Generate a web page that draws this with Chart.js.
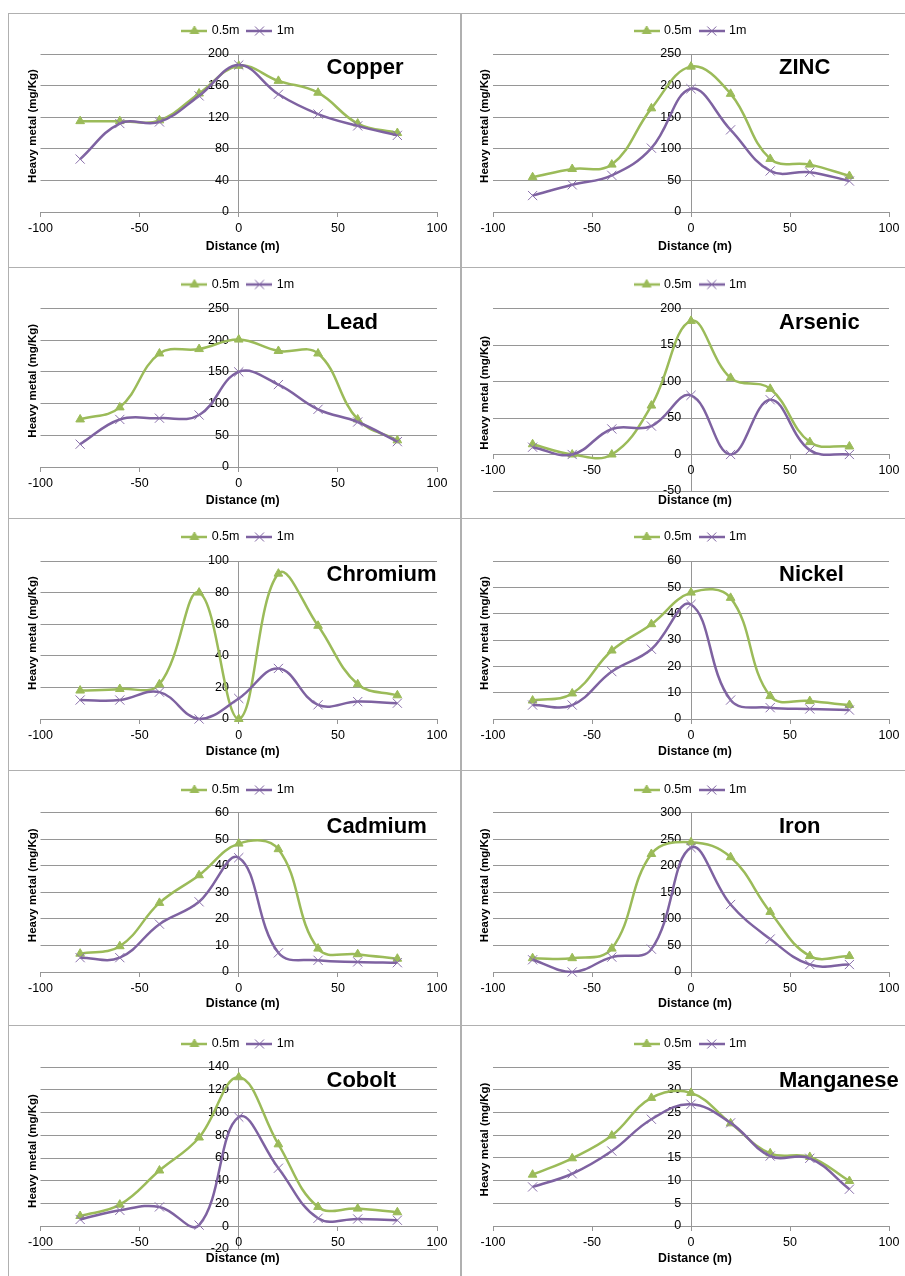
<!DOCTYPE html>
<html>
<head>
<meta charset="utf-8">
<script src="https://cdn.jsdelivr.net/npm/chart.js@4.4.1/dist/chart.umd.min.js"></script>
<style>
  body { margin: 0; background: #fff; width: 905px; height: 1276px; overflow: hidden; position: relative; }
  .frame { position: absolute; box-sizing: border-box; border-top: 1px solid #b0b0b0; border-left: 1px solid #b0b0b0; }
  .frame.left { border-right: 1px solid #b0b0b0; }
  canvas { position: absolute; }
</style>
</head>
<body>
<script>
const distances = [-80, -60, -40, -20, 0, 20, 40, 60, 80];
const seriesLabels = ["0.5m", "1m"];
const elements = ["Copper", "ZINC", "Lead", "Arsenic", "Chromium", "Nickel", "Cadmium", "Iron", "Cobolt", "Manganese"];

const copper05 = [115, 115, 116, 150, 185, 166, 151, 112, 100];
const copper1 = [67, 112, 114, 147, 186, 149, 124, 109, 97];
const zinc05 = [55, 68, 75, 164, 230, 187, 84, 75, 57];
const zinc1 = [26, 43, 58, 101, 195, 130, 65, 63, 49];
const lead05 = [75, 94, 179, 186, 201, 183, 179, 75, 42];
const lead1 = [36, 75, 77, 82, 150, 130, 91, 71, 40];
const arsenic05 = [14, 0, 0, 67, 183, 105, 90, 17, 11];
const arsenic1 = [10, 0, 35, 39, 81, 0, 75, 6, 0];
const chromium05 = [18, 19, 22, 80, 0, 92, 59, 22, 15];
const chromium1 = [12, 12, 17, 0, 13, 32, 9, 11, 10];
const nickel05 = [7, 9.7, 26, 36, 48, 46, 8.7, 6.8, 5.3];
const nickel1 = [5.3, 5.3, 18, 26.5, 43.5, 7.2, 4.3, 3.8, 3.4];
const cadmium05 = [6.9, 9.7, 26, 36.4, 48.3, 46.2, 8.8, 6.7, 5];
const cadmium1 = [5.4, 5.4, 18, 26.4, 43, 7.2, 4.4, 3.8, 3.5];
const iron05 = [26, 26, 44, 222, 244, 216, 113, 30, 30];
const iron1 = [23, 0, 28, 43, 234, 127, 62, 14, 14];
const cobolt05 = [9, 19, 49, 78, 131, 72, 17, 15.5, 12.3];
const cobolt1 = [6, 14, 17, 1, 96, 51, 7, 6.4, 5.3];
const manganese05 = [11.3, 14.9, 19.9, 28.2, 29.3, 22.6, 16, 15.2, 9.9];
const manganese1 = [8.6, 11.5, 16.5, 23.5, 26.8, 22.7, 15.4, 14.9, 8.1];

const xMin = -100, xMax = 100, xStep = 50;
const yMins = [0, 0, 0, -50, 0, 0, 0, 0, -20, 0];
const yMaxs = [200, 250, 250, 200, 100, 60, 60, 300, 140, 35];
const ySteps = [20, 50, 50, 50, 10, 10, 10, 50, 20, 5];

const series05 = [copper05, zinc05, lead05, arsenic05, chromium05, nickel05, cadmium05, iron05, cobolt05, manganese05];
const series1 = [copper1, zinc1, lead1, arsenic1, chromium1, nickel1, cadmium1, iron1, cobolt1, manganese1];

// page layout
const rowTops = [13, 267, 518, 770, 1025];
const canvasHeights = [252, 249, 250, 253, 250];
const legendMid = [17, 16.5, 18, 19, 18];
const plotTop = [40, 40.5, 42, 41.5, 41];
const plotBottom = [198, 199, 200, 201, 200];
const plotBottomNeg = 223;

const green = "#9BBB59";
const purple = "#7E62A1";
const gridColor = "#969696";
const fontFamily = '"Liberation Sans", Arial, sans-serif';

Chart.defaults.font.family = fontFamily;
Chart.defaults.font.size = 12.5;
Chart.defaults.color = "#000";

// legend key: short line with the marker in the middle
function makeIcon(color, marker) {
  const c = document.createElement("canvas");
  c.width = 26;
  c.height = 14;
  const g = c.getContext("2d");
  g.strokeStyle = color;
  g.fillStyle = color;
  g.lineWidth = 2.5;
  g.beginPath();
  g.moveTo(0, 7);
  g.lineTo(26, 7);
  g.stroke();
  g.lineWidth = 1;
  g.beginPath();
  if (marker === "triangle") {
    g.moveTo(13, 2);
    g.lineTo(17.33, 9.5);
    g.lineTo(8.67, 9.5);
    g.closePath();
    g.fill();
    g.stroke();
  } else {
    const d = 4.5;
    g.moveTo(13 - d, 7 - d);
    g.lineTo(13 + d, 7 + d);
    g.moveTo(13 + d, 7 - d);
    g.lineTo(13 - d, 7 + d);
    g.stroke();
  }
  return c;
}
const icons = [makeIcon(green, "triangle"), makeIcon(purple, "cross")];

const panelText = {
  id: "panelText",
  afterDraw(chart, args, opts) {
    const { ctx, chartArea: a } = chart;
    ctx.save();
    ctx.fillStyle = "#000";
    ctx.textBaseline = "middle";
    ctx.textAlign = "left";
    ctx.font = "bold 22px " + fontFamily;
    ctx.fillText(opts.name, a.left + 286, a.top + 14);
    ctx.textAlign = "center";
    ctx.font = "bold 12.3px " + fontFamily;
    ctx.fillText("Distance (m)", (a.left + a.right) / 2 + 4, 233);
    ctx.translate(a.left - 8, (a.top + a.bottom) / 2 - 7);
    ctx.rotate(-Math.PI / 2);
    ctx.font = "bold 11.5px " + fontFamily;
    ctx.fillText("Heavy metal (mg/Kg)", 0, 0);
    ctx.restore();
  },
};

elements.forEach((name, i) => {
  const row = Math.floor(i / 2);
  const col = i % 2;

  const frame = document.createElement("div");
  frame.className = "frame" + (col === 0 ? " left" : "");
  frame.style.left = (col === 0 ? 8 : 461) + "px";
  frame.style.top = rowTops[row] + "px";
  frame.style.width = (col === 0 ? 453 : 460) + "px";
  frame.style.height = (row < 4 ? rowTops[row + 1] - rowTops[row] + 1 : 300) + "px";
  document.body.appendChild(frame);

  const canvas = document.createElement("canvas");
  const w = col === 0 ? 451 : 443;
  const h = canvasHeights[row];
  canvas.width = w;
  canvas.height = h;
  canvas.style.left = (col === 0 ? 9 : 462) + "px";
  canvas.style.top = rowTops[row] + 1 + "px";
  canvas.style.width = w + "px";
  canvas.style.height = h + "px";
  document.body.appendChild(canvas);

  const legendPad = 9;
  const padTop = legendMid[row] - (legendPad + 6.25);
  const spacer = plotTop[row] - padTop - (12.5 + legendPad + 10);
  const bottom = yMins[i] < 0 ? plotBottomNeg : plotBottom[row];

  new Chart(canvas.getContext("2d"), {
    type: "line",
    data: {
      datasets: [
        {
          label: seriesLabels[0],
          data: distances.map((d, k) => ({ x: d, y: series05[i][k] })),
          borderColor: green,
          backgroundColor: green,
          borderWidth: 2.5,
          pointStyle: "triangle",
          pointRadius: 5,
          pointBorderWidth: 1,
          tension: 0.4,
          clip: false,
          order: 2,
        },
        {
          label: seriesLabels[1],
          data: distances.map((d, k) => ({ x: d, y: series1[i][k] })),
          borderColor: purple,
          backgroundColor: purple,
          borderWidth: 2.5,
          pointStyle: "crossRot",
          pointRadius: 6.5,
          pointBorderWidth: 1,
          pointBorderColor: "#8a70ab",
          tension: 0.4,
          clip: false,
          order: 1,
        },
      ],
    },
    options: {
      responsive: false,
      animation: false,
      layout: {
        padding: {
          top: padTop,
          left: col === 0 ? 31.5 : 31,
          right: col === 0 ? 23 : 16,
          bottom: h - bottom,
        },
      },
      plugins: {
        legend: {
          position: "top",
          labels: {
            usePointStyle: true,
            pointStyleWidth: 22,
            padding: legendPad,
            font: { size: 12.5 },
            sort: (a, b) => a.datasetIndex - b.datasetIndex,
            generateLabels: (chart) =>
              Chart.defaults.plugins.legend.labels
                .generateLabels(chart)
                .map((item) => ({ ...item, pointStyle: icons[item.datasetIndex] })),
          },
        },
        title: {
          display: true,
          text: "",
          weight: 500,
          font: { size: 1, lineHeight: 1 },
          padding: { top: 0, bottom: spacer - 1 },
        },
        tooltip: { enabled: false },
        panelText: { name },
      },
      scales: {
        x: {
          type: "linear",
          min: xMin,
          max: xMax,
          position: { y: 0 },
          ticks: { stepSize: xStep, padding: 5, maxRotation: 0 },
          grid: {
            drawOnChartArea: true,
            color: (c) => (c.tick && c.tick.value === 0 ? gridColor : "rgba(0,0,0,0)"),
            drawTicks: true,
            tickLength: 4,
            tickColor: gridColor,
          },
          border: { color: gridColor },
          afterFit: (s) => { s.height = 0; },
        },
        y: {
          type: "linear",
          min: yMins[i],
          max: yMaxs[i],
          // labels sit right-aligned at this x value, just left of the zero line
          position: { x: -5 },
          ticks: { stepSize: ySteps[i] },
          grid: { color: gridColor, drawTicks: false },
          border: { display: false },
          afterFit: (s) => { s.width = 0; },
        },
      },
    },
    plugins: [panelText],
  });
});
</script>
</body>
</html>
